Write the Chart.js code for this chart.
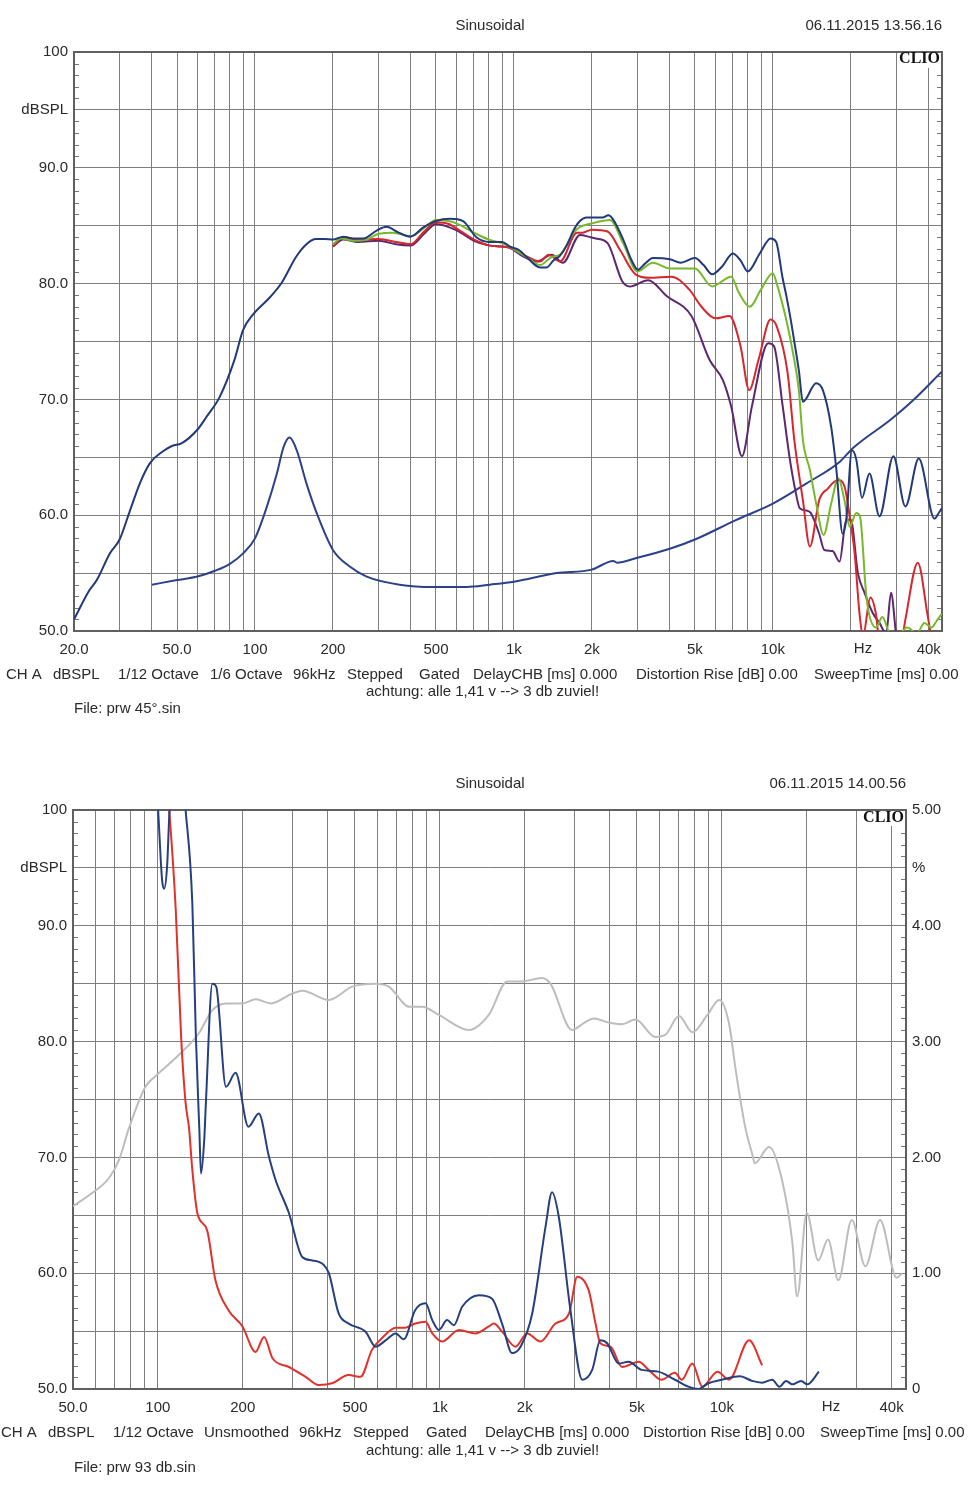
<!DOCTYPE html>
<html>
<head>
<meta charset="utf-8">
<script src="https://cdn.jsdelivr.net/npm/chart.js@4.4.1/dist/chart.umd.min.js"></script>
<style>
  html, body { margin: 0; padding: 0; background: #fff; }
  canvas { display: block; }
</style>
</head>
<body>
<canvas id="top" width="980" height="750"></canvas>
<canvas id="bottom" width="980" height="750"></canvas>
<script>
// ---- upper chart: prw 45°.sin (dBSPL over frequency) ----
const onAxisHz = [20, 22.9, 24.5, 27.5, 30, 32.9, 36, 39.3, 44, 48, 52, 60, 65, 73, 83, 90, 98, 114, 127, 144, 158, 172, 186,
  200, 219, 239, 262, 296, 322, 359, 398, 447, 500, 565, 636, 716, 804, 900, 965, 1046, 1120, 1261, 1340, 1420, 1505, 1600,
  1700, 1780, 1914, 2076, 2200, 2317, 2421, 2643, 2850, 3010, 3200, 3440, 4000, 4406, 5000, 5400, 5830, 6380, 7000, 7500,
  8000, 8900, 9800, 10300, 10900, 11260, 11700, 12100, 12600, 13060, 14700, 15600, 16800, 17600, 18600, 19200, 20200,
  21000, 22100, 23600, 25800, 29200, 32500, 36600, 42100, 44000, 45000];
const onAxisDb = [51.0, 53.5, 54.4, 56.7, 57.9, 60.4, 62.8, 64.5, 65.5, 66.0, 66.2, 67.4, 68.5, 70.2, 73.3, 76.0, 77.3, 78.8, 80.1, 82.3, 83.4, 83.85, 83.85,
  83.8, 84.05, 83.9, 83.9, 84.6, 84.9, 84.4, 84.05, 84.85, 85.4, 85.6, 85.4, 84.0, 83.6, 83.6, 83.2, 82.9, 82.3, 81.4, 81.4, 82.0, 82.4, 83.3,
  84.6, 85.3, 85.7, 85.7, 85.7, 85.9, 85.5, 83.8, 82.0, 81.2, 81.7, 82.2, 82.1, 81.8, 82.2, 81.6, 80.8, 81.5, 82.6, 82.0,
  81.05, 82.6, 83.9, 83.6, 80.5, 79.0, 77.0, 75.0, 72.5, 69.8, 71.4, 70.8, 67.6, 63.9, 58.4, 59.6, 65.6,
  64.8, 61.5, 63.6, 59.9, 65.1, 60.75, 64.9, 59.7, 60.3, 60.6];

const greenHz = [200, 215, 240, 270, 300, 340, 400, 450, 500, 560, 600, 700, 800, 900, 965, 1150, 1261, 1400, 1507, 1700, 1800,
  2000, 2080, 2350, 2640, 3000, 3440, 4000, 5000, 5830, 6900, 7400, 8150, 9000, 10000, 10350, 11260, 12100, 12600, 13060,
  13900, 14700, 15700, 16800, 17900, 18900, 19800, 21000, 21700, 22900, 23500, 25000, 26500, 28000, 30000, 33000, 36000,
  38500, 41000, 43000, 45000];
const greenDb = [83.4, 83.9, 83.7, 83.8, 84.3, 84.4, 84.1, 84.8, 85.5, 85.4, 85.2, 84.4, 83.8, 83.5, 83.2, 82.1, 81.6, 82.3, 82.5, 84.4, 84.9,
  85.2, 85.3, 85.5, 83.5, 81.05, 81.8, 81.3, 81.3, 79.75, 80.6, 79.2, 78.0, 79.5, 80.9, 80.0, 76.9, 73.4, 70.8, 66.5,
  63.9, 61.0, 58.3, 61.0, 63.2, 61.3, 59.0, 60.2, 59.9, 53.3, 51.5, 50.3, 51.2, 50.0, 49.5, 50.3, 49.8,
  50.7, 50.3, 50.9, 51.5];

const redHz = [200, 219, 250, 300, 350, 400, 450, 500, 560, 636, 716, 800, 900, 965, 1120, 1261, 1360, 1507, 1750, 1840, 2000,
  2300, 2570, 2950, 3350, 4050, 4750, 5300, 6000, 6800, 7500, 8100, 8800, 9800, 10350, 11400, 12100, 13060, 13900, 15100,
  16300, 17800, 18900, 19800, 20700, 21600, 22300, 23800, 25000, 26000, 31000, 32500, 36300, 39500, 41500];
const redDb = [83.2, 84.0, 83.8, 83.85, 83.6, 83.4, 84.5, 85.3, 85.15, 84.4, 83.7, 83.3, 83.2, 83.1, 82.35, 81.9, 82.5, 81.9, 84.4, 84.4, 84.65,
  84.5, 82.9, 80.8, 80.5, 80.6, 79.5, 78.0, 77.0, 77.2, 74.6, 70.8, 73.4, 76.9, 76.3, 72.3, 66.5, 61.3, 57.3, 61.3,
  62.3, 63.05, 62.5, 59.9, 56.7, 51.55, 49.6, 52.9, 51.5, 48.5, 48.5, 51.0, 55.9, 51.5, 48.5];

const purpleHz = [200, 219, 250, 300, 350, 400, 450, 500, 600, 700, 800, 900, 965, 1085, 1225, 1400, 1545, 1800, 1980, 2070,
  2300, 2620, 2800, 3300, 3900, 4850, 5700, 6400, 6900, 7600, 8300, 9600, 10100, 10900, 11600, 12300, 12700, 13500, 14000,
  15100, 15800, 17000, 18100, 19200, 20000, 21300, 22600, 24300, 25800, 27400, 28600, 30000, 31000];
const purpleDb = [83.2, 83.8, 83.6, 83.7, 83.4, 83.3, 84.3, 85.15, 84.6, 83.7, 83.3, 83.2, 83.1, 82.35, 81.9, 82.5, 81.8, 84.2, 84.0, 83.9,
  83.5, 80.2, 79.75, 80.3, 78.9, 77.2, 73.4, 71.7, 69.4, 65.1, 69.4, 74.85, 74.6, 69.5, 65.0, 61.8, 60.6, 60.4, 60.2,
  58.4, 57.0, 56.9, 56.0, 59.6, 59.6, 55.0, 53.3, 51.55, 50.7, 49.8, 53.3, 49.5, 48.0];

const impedanceHz = [40, 50, 60, 70, 80, 90, 100, 111, 121.5, 129, 136, 145, 158, 173, 200, 233, 270, 362, 488, 657, 808, 1000,
  1461, 1996, 2420, 2500, 2975, 4000, 5000, 7230, 10000, 13500, 18100, 20400, 28300, 34900, 44900];
const impedanceDb = [54.0, 54.4, 54.7, 55.2, 55.8, 56.7, 58.0, 60.7, 63.6, 65.9, 66.7, 65.6, 62.75, 60.2, 57.0, 55.55, 54.7, 54.0, 53.8, 53.8, 54.0, 54.25,
  55.0, 55.3, 56.05, 55.9, 56.3, 57.1, 57.9, 59.6, 61.0, 62.75, 64.6, 65.8, 68.2, 69.95, 72.4];

// ---- lower chart: prw 93 db.sin ----
const refHz = [49.7, 58.3, 67, 72.9, 78.9, 90.3, 97.9, 118.6, 139.6, 155.8, 174, 199.5, 222.4, 251.6, 300, 325.6, 404, 489, 592,
  659, 781, 866, 992, 1268, 1491, 1733, 1958, 2302, 2468, 2944, 3240, 3517, 3963, 4428, 4940, 5819, 6319, 7050, 7870, 8890,
  9788, 10600, 11200, 12100, 12800, 13100, 14700, 16350, 17800, 18500, 20000, 21980, 23800, 25900, 28900, 32300, 36400,
  41700, 43500];
const refDb = [65.75, 66.9, 68.2, 69.8, 72.5, 76.1, 77.0, 78.85, 80.7, 82.7, 83.3, 83.3, 83.65, 83.3, 84.15, 84.4, 83.6, 84.75, 85.0,
  84.75, 83.0, 83.0, 82.3, 81.0, 82.3, 85.2, 85.2, 85.5, 85.0, 81.0, 81.6, 82.0, 81.65, 81.5, 81.9, 80.4, 80.6, 82.2, 80.8, 82.3,
  83.6, 81.6, 77.55, 72.65, 70.35, 69.5, 70.9, 68.05, 62.6, 58.0, 65.2, 61.1, 62.9, 59.4, 64.6, 60.6, 64.6,
  59.6, 60.0];

const blueHz = [98, 100.2, 103.5, 105.2, 107.8, 110, 114, 121, 125.4, 132.5, 136.4, 140.3, 142.2, 146, 148, 156, 161, 174.4,
  188.6, 209.5, 228, 247.5, 261.5, 291.5, 325, 353, 388, 404, 438, 475, 545, 592, 642, 697, 745, 817, 890, 940, 992, 1061,
  1121, 1200, 1376, 1532, 1662, 1805, 1933, 2125, 2370, 2500, 2640, 2905, 3200, 3470, 3710, 3920, 4310, 4670, 5200, 5950,
  6820, 7610, 8260, 8960, 10000, 11600, 12800, 13900, 15100, 16000, 16900, 17800, 19100, 20100, 22100];
const blueDb = [104, 100, 93.95, 93.2, 95.1, 100, 104, 104, 100, 91.9, 80.4, 72.4, 68.6, 71.5, 74.7, 85.0, 84.75, 76.1,
  77.3, 72.65, 73.8, 70.1, 68.05, 65.2, 61.4, 61.1, 60.7, 60.0, 56.5, 55.65, 54.95, 53.65, 54.2, 54.8, 54.3, 56.8, 57.4, 55.95, 55.1, 55.95,
  55.5, 57.1, 58.1, 57.8, 55.65, 53.1, 53.65, 56.5, 64.0, 67.0, 64.9, 56.8, 50.8, 51.65, 54.2, 53.95, 52.2, 52.35, 51.65, 51.5,
  50.8, 50.2, 50.0, 50.5, 50.8, 51.1, 50.7, 50.55, 50.8, 50.2, 50.7, 50.4, 50.7, 50.4, 51.5];

const orangeHz = [106, 109.7, 115.7, 120.9, 125.4, 129, 132.5, 138, 149.5, 160, 178, 199.5, 222, 238, 255, 291.5, 334, 372, 415,
  475, 523, 575, 624, 697, 755, 817, 890, 940, 1019, 1168, 1338, 1492, 1554, 1662, 1854, 2040, 2276, 2570, 2870, 3070, 3375,
  3565, 3710, 4030, 4430, 5070, 5500, 6110, 6820, 7210, 7860, 8530, 9650, 10600, 12500, 13900];
const orangeDb = [104, 100, 91.4, 80.4, 74.7, 72.5, 68.9, 65.2, 63.7, 59.4, 56.8, 55.4, 53.2, 54.5, 52.65, 51.9, 51.05, 50.35, 50.5,
  51.2, 51.05, 53.4, 54.4, 55.3, 55.3, 55.65, 55.8, 54.8, 54.1, 55.1, 54.8, 55.4, 55.65, 54.95, 53.65, 54.8, 54.1, 55.65, 56.5, 59.7, 58.5,
  55.65, 53.95, 53.65, 51.9, 52.35, 51.65, 50.8, 51.4, 50.8, 52.2, 50.2, 51.5, 50.8, 54.2, 52.05];

// ---- axes ----
const topGridHz = [20, 30, 40, 50, 60, 70, 80, 90, 100, 200, 300, 400, 500, 600, 700, 800, 900,
  1000, 2000, 3000, 4000, 5000, 6000, 7000, 8000, 9000, 10000, 20000, 30000, 40000];
const bottomGridHz = topGridHz.filter(f => f >= 50);
const topTickHz = [20, 50, 100, 200, 500, 1000, 2000, 5000, 10000, 40000];
const topTickText = ['20.0', '50.0', '100', '200', '500', '1k', '2k', '5k', '10k', '40k'];
const bottomTickHz = [50, 100, 200, 500, 1000, 2000, 5000, 10000, 40000];
const bottomTickText = ['50.0', '100', '200', '500', '1k', '2k', '5k', '10k', '40k'];
const dbTickValues = [100, 95, 90, 80, 70, 60, 50];
const dbTickText = ['100', 'dBSPL', '90.0', '80.0', '70.0', '60.0', '50.0'];
const pctTickValues = [5, 4.5, 4, 3, 2, 1, 0];
const pctTickText = ['5.00', '%', '4.00', '3.00', '2.00', '1.00', '0'];

Chart.defaults.font.family = "'Liberation Sans', Arial, sans-serif";
Chart.defaults.font.size = 15;
Chart.defaults.color = '#2a2a2a';

function pts(hz, db) {
  return hz.map((f, i) => ({ x: f, y: db[i] }));
}

function line(hz, db, color) {
  return {
    data: pts(hz, db),
    borderColor: color,
    borderWidth: 2,
    pointRadius: 0,
    fill: false,
    cubicInterpolationMode: 'monotone'
  };
}

// frame, 1 dB minor ticks, header/footer text and the CLIO mark
const clioDecor = {
  id: 'clioDecor',
  beforeDatasetsDraw(chart, args, opts) {
    const { ctx, chartArea: a, scales } = chart;
    ctx.save();
    ctx.strokeStyle = '#777';
    ctx.lineWidth = 1;
    for (let v = 51; v < 100; v++) {
      if (v % 5 === 0) continue;
      const y = Math.round(scales.y.getPixelForValue(v)) + 0.5;
      ctx.beginPath();
      ctx.moveTo(a.left, y);
      ctx.lineTo(a.left + 5, y);
      ctx.moveTo(a.right - 5, y);
      ctx.lineTo(a.right, y);
      ctx.stroke();
    }
    ctx.strokeStyle = '#606060';
    ctx.lineWidth = 2;
    ctx.strokeRect(a.left, a.top, a.right - a.left, a.bottom - a.top);

    ctx.font = "bold 16px 'Liberation Serif', serif";
    ctx.textAlign = 'right';
    ctx.textBaseline = 'middle';
    const w = ctx.measureText('CLIO').width;
    ctx.fillStyle = '#fff';
    ctx.fillRect(a.right - w - 4, a.top + 1, w + 3, 15);
    ctx.fillStyle = '#111';
    ctx.fillText('CLIO', a.right - 2, opts.clioY);
    ctx.restore();
  },
  afterDraw(chart, args, opts) {
    const ctx = chart.ctx;
    ctx.save();
    ctx.font = "15px 'Liberation Sans', Arial, sans-serif";
    ctx.fillStyle = '#2a2a2a';
    ctx.textBaseline = 'middle';
    for (const [text, x, y, align] of opts.texts) {
      ctx.textAlign = align || 'left';
      ctx.fillText(text, x, y);
    }
    ctx.restore();
  }
};

function xAxis(min, gridHz, tickHz, tickText, height) {
  return {
    type: 'logarithmic',
    min: min,
    max: 45000,
    afterBuildTicks: (s) => { s.ticks = gridHz.map(v => ({ value: v })); },
    afterFit: (s) => { s.height = height; },
    grid: { color: '#7e7e7e', lineWidth: 1, drawTicks: false },
    border: { display: false },
    ticks: {
      autoSkip: false,
      maxRotation: 0,
      padding: 10,
      callback: (v) => {
        const i = tickHz.indexOf(v);
        return i < 0 ? '' : tickText[i];
      }
    }
  };
}

function dbAxis(width) {
  return {
    type: 'linear',
    position: 'left',
    min: 50,
    max: 100,
    afterFit: (s) => { s.width = width; },
    grid: { color: '#7e7e7e', lineWidth: 1, drawTicks: false },
    border: { display: false },
    ticks: {
      stepSize: 5,
      padding: 6,
      callback: (v) => {
        const i = dbTickValues.indexOf(v);
        return i < 0 ? '' : dbTickText[i];
      }
    }
  };
}

new Chart(document.getElementById('top'), {
  type: 'line',
  data: {
    datasets: [
      line(onAxisHz, onAxisDb, '#22397a'),
      line(greenHz, greenDb, '#78b82c'),
      line(redHz, redDb, '#d7262d'),
      line(purpleHz, purpleDb, '#5c2870'),
      line(impedanceHz, impedanceDb, '#2c4189')
    ]
  },
  options: {
    responsive: false,
    animation: false,
    devicePixelRatio: 1,
    layout: { padding: { top: 52, right: 38, left: 0, bottom: 0 } },
    scales: {
      x: xAxis(20, topGridHz, topTickHz, topTickText, 119),
      y: dbAxis(74)
    },
    plugins: {
      legend: { display: false },
      tooltip: { enabled: false },
      clioDecor: {
        clioY: 59,
        texts: [
          ['Sinusoidal', 490, 26, 'center'],
          ['06.11.2015 13.56.16', 942, 26, 'right'],
          ['Hz', 863, 649, 'center'],
          ['CH A', 6, 675], ['dBSPL', 53, 675], ['1/12 Octave', 118, 675], ['1/6 Octave', 210, 675],
          ['96kHz', 293, 675], ['Stepped', 347, 675], ['Gated', 419, 675],
          ['DelayCHB [ms] 0.000', 473, 675], ['Distortion Rise [dB] 0.00', 636, 675],
          ['SweepTime [ms] 0.00', 814, 675],
          ['achtung: alle 1,41 v --> 3 db zuviel!', 366, 692],
          ['File: prw 45°.sin', 74, 709]
        ]
      }
    }
  },
  plugins: [clioDecor]
});

new Chart(document.getElementById('bottom'), {
  type: 'line',
  data: {
    datasets: [
      line(blueHz, blueDb, '#26407f'),
      line(orangeHz, orangeDb, '#e0322a'),
      line(refHz, refDb, '#bdbdbd')
    ]
  },
  options: {
    responsive: false,
    animation: false,
    devicePixelRatio: 1,
    layout: { padding: { top: 60, right: 0, left: 0, bottom: 0 } },
    scales: {
      x: xAxis(50, bottomGridHz, bottomTickHz, bottomTickText, 111),
      y: dbAxis(73),
      y2: {
        type: 'linear',
        position: 'right',
        min: 0,
        max: 5,
        afterFit: (s) => { s.width = 74; },
        afterBuildTicks: (s) => { s.ticks = pctTickValues.map(v => ({ value: v })); },
        grid: { display: false, drawTicks: false },
        border: { display: false },
        ticks: {
          padding: 6,
          callback: (v) => {
            const i = pctTickValues.indexOf(v);
            return i < 0 ? '' : pctTickText[i];
          }
        }
      }
    },
    plugins: {
      legend: { display: false },
      tooltip: { enabled: false },
      clioDecor: {
        clioY: 68,
        texts: [
          ['Sinusoidal', 490, 34, 'center'],
          ['06.11.2015 14.00.56', 906, 34, 'right'],
          ['Hz', 831, 657, 'center'],
          ['CH A', 1, 683], ['dBSPL', 48, 683], ['1/12 Octave', 113, 683], ['Unsmoothed', 204, 683],
          ['96kHz', 299, 683], ['Stepped', 353, 683], ['Gated', 426, 683],
          ['DelayCHB [ms] 0.000', 485, 683], ['Distortion Rise [dB] 0.00', 643, 683],
          ['SweepTime [ms] 0.00', 820, 683],
          ['achtung: alle 1,41 v --> 3 db zuviel!', 366, 701],
          ['File: prw 93 db.sin', 74, 718]
        ]
      }
    }
  },
  plugins: [clioDecor]
});
</script>
</body>
</html>
